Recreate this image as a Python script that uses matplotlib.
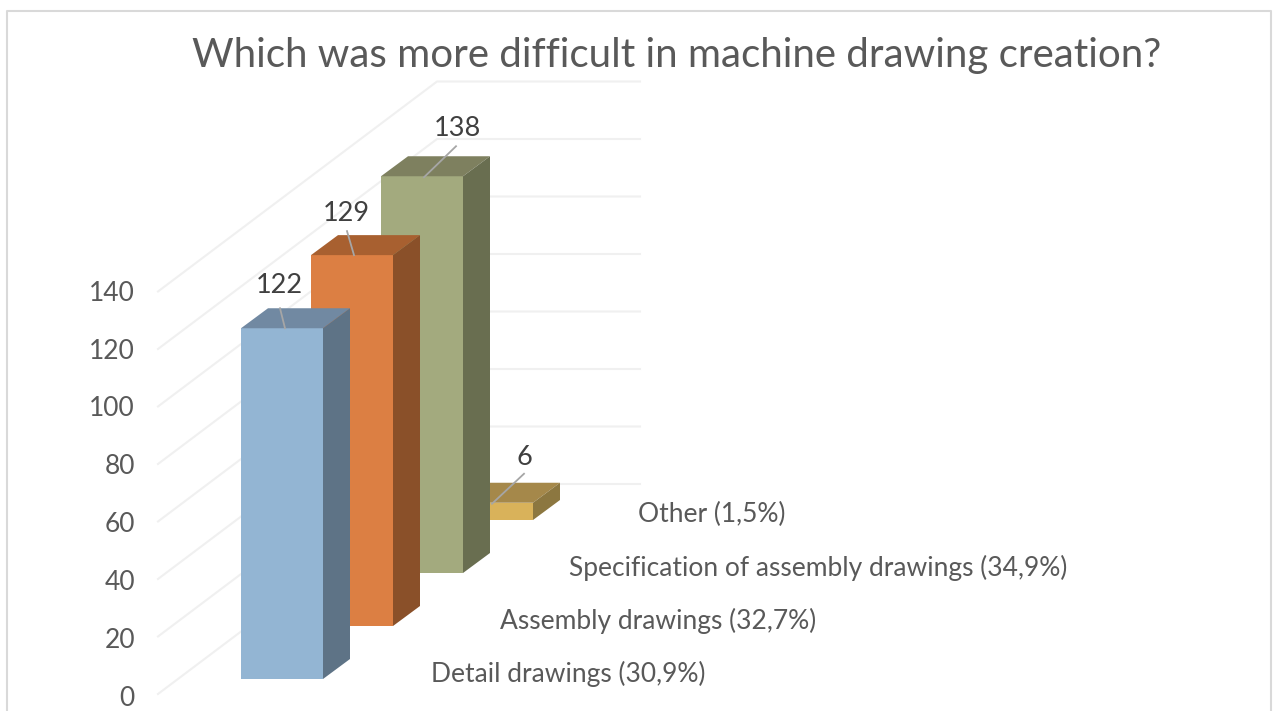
#!/usr/bin/env python3
import matplotlib
matplotlib.use('Agg')
import matplotlib.pyplot as plt
from matplotlib.patches import Polygon

# ---- data ----
categories = ['Detail drawings (30,9%)', 'Assembly drawings (32,7%)',
              'Specification of assembly drawings (34,9%)', 'Other (1,5%)']
values = [122, 129, 138, 6]
y_ticks = [0, 20, 40, 60, 80, 100, 120, 140]
title = 'Which was more difficult in machine drawing creation?'

# ---- colours per bar: face, top, side ----
face_colors = ['#93B5D3', '#DC7F43', '#A3AA7E', '#D9B25A']
top_colors = ['#7189A2', '#A86030', '#7E805F', '#A5884A']
side_colors = ['#5E7386', '#8A5029', '#696E50', '#8C7740']
TEXT = '#595959'
LABEL = '#404040'
GRID = '#F0F0F0'
LEADER = '#A6A6A6'

# ---- oblique projection, in image pixels ----
X0, Y0 = 241, 679      # front bottom left of the first bar
STEP_X, STEP_Y = 70, 53  # shift per category going back
BAR_W = 82
DEPTH_X, DEPTH_Y = 27, 20
PX_PER_UNIT = 2.875
FLOOR_X, FLOOR_Y = 158, 694
WALL_DX, WALL_DY = 279, 210
WALL_END = 640

# leader start offset (from bar top front left) and label centre offset
leader_end = [(44, 0), (43, 0), (43, 1), (41, 1)]
leader_start = [(39, -20), (36, -24), (75, -30), (73, -29)]
label_pos = [(38, -43), (35, -42), (76, -48), (73, -45)]


def front(i, value):
    """Front left corner of bar i at a given value."""
    return X0 + STEP_X * i, Y0 - STEP_Y * i - value * PX_PER_UNIT


plt.rcParams['font.family'] = ['Lato', 'DejaVu Sans']
fig = plt.figure(figsize=(12.77, 7.11), dpi=100)
ax = fig.add_axes([0, 0, 1, 1])
ax.set_xlim(0, 1277)
ax.set_ylim(711, 0)
ax.axis('off')

# chart frame, open at the bottom
ax.plot([7, 7, 1271, 1271], [711, 11, 11, 711], color='#D9D9D9', lw=1.5, zorder=1)

# gridlines: side wall then back wall
for v in y_ticks:
    y = FLOOR_Y - v * PX_PER_UNIT
    ax.plot([FLOOR_X, FLOOR_X + WALL_DX, WALL_END], [y, y - WALL_DY, y - WALL_DY],
            color=GRID, lw=1.5, zorder=1)
    ax.text(135, 698 - v * 2.89, str(v), ha='right', va='center',
            fontsize=19, color=TEXT)

# back to front so that the nearer bars cover the others
for i in reversed(range(len(values))):
    x, top = front(i, values[i])
    _, bottom = front(i, 0)
    z = 3 + (len(values) - i)
    ax.add_patch(Polygon([(x, bottom), (x + BAR_W, bottom), (x + BAR_W, top), (x, top)],
                         color=face_colors[i], lw=0, zorder=z))
    ax.add_patch(Polygon([(x, top), (x + BAR_W, top),
                          (x + BAR_W + DEPTH_X, top - DEPTH_Y), (x + DEPTH_X, top - DEPTH_Y)],
                         color=top_colors[i], lw=0, zorder=z))
    ax.add_patch(Polygon([(x + BAR_W, bottom), (x + BAR_W + DEPTH_X, bottom - DEPTH_Y),
                          (x + BAR_W + DEPTH_X, top - DEPTH_Y), (x + BAR_W, top)],
                         color=side_colors[i], lw=0, zorder=z))

# leaders and value labels sit above all bars
for i, v in enumerate(values):
    x, top = front(i, v)
    ax.plot([x + leader_start[i][0], x + leader_end[i][0]],
            [top + leader_start[i][1], top + leader_end[i][1]],
            color=LEADER, lw=1.3, zorder=10)
    ax.text(x + label_pos[i][0], top + label_pos[i][1], str(v), ha='center', va='center',
            fontsize=19.5, color=LABEL, zorder=10)

# category labels along the floor
for i, name in enumerate(categories):
    ax.text(431 + STEP_X * i - (i * 1), 673.5 - (STEP_Y * i), name, ha='left', va='center',
            fontsize=19, color=TEXT)

ax.text(677, 55, title, ha='center', va='center', fontsize=29, color=TEXT)

fig.savefig('out.png', dpi=100)
